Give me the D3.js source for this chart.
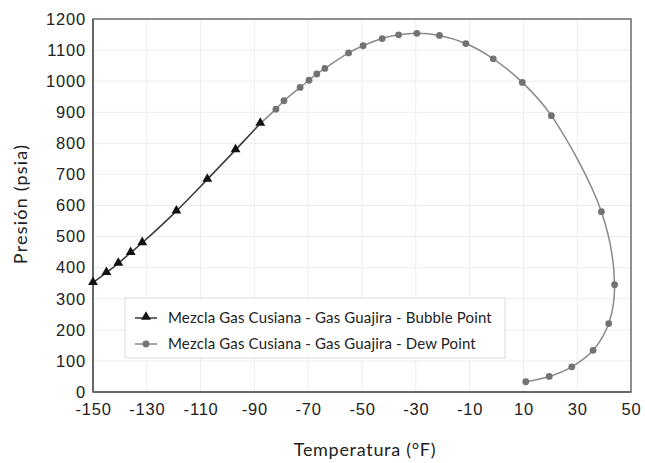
<!DOCTYPE html>
<html>
<head>
<meta charset="utf-8">
<script src="https://cdn.jsdelivr.net/npm/d3@7"></script>
<style>
  body { margin: 0; background: #fff; }
  svg { display: block; font-family: Lato, "Open Sans", sans-serif; }
  .grid line { stroke: #ededed; stroke-width: 1; }
  .axis path, .axis line { display: none; }
  .axis text { font-size: 16.5px; fill: #222; letter-spacing: 0.8px; }
</style>
</head>
<body>
<svg id="chart" width="645" height="463"></svg>
<script>
// ---- DATA
var bubble_temp = [-150, -145, -140.6, -136, -131.7, -119, -107.5, -97, -87.8];
var bubble_pres = [352, 384, 414, 448, 480, 582, 684, 779, 864];

var dew_temp = [-82, -79, -73, -69.7, -66.8, -63.8, -55, -49.6, -42.5, -36.4, -29.6,
  -21.2, -11.4, -1.2, 9.6, 20.4, 39, 43.9, 41.7, 35.9, 28, 19.6, 10.9];
var dew_pres = [910, 937, 980, 1003, 1023, 1041, 1091, 1114, 1137, 1149, 1154,
  1147, 1121, 1072, 996, 889, 580, 345, 220, 134, 81, 50, 33];

var x_ticks = [-150, -130, -110, -90, -70, -50, -30, -10, 10, 30, 50];
var y_ticks = [0, 100, 200, 300, 400, 500, 600, 700, 800, 900, 1000, 1100, 1200];

var series_names = [
  'Mezcla Gas Cusiana - Gas Guajira - Bubble Point',
  'Mezcla Gas Cusiana - Gas Guajira - Dew Point'
];

(function() {
  'use strict';

  var svg = d3.select('#chart');

  //---SIZES
  var m = { left: 93, top: 19, right: 14, bottom: 71 };
  var w = 645 - m.left - m.right,
    h = 463 - m.top - m.bottom;

  var g = svg.append('g')
    .attr('transform', 'translate(' + m.left + ',' + m.top + ')');

  //---SCALES
  var x = d3.scaleLinear().domain([-150, 50]).range([0, w]);
  var y = d3.scaleLinear().domain([0, 1200]).range([h, 0]);

  // plain hyphen for negatives, like the original
  var fmt = function(d) { return String(d); };

  //---GRID
  var grid = g.append('g').attr('class', 'grid');
  grid.selectAll('line.gx')
    .data(x_ticks)
    .enter().append('line')
    .attr('class', 'gx')
    .attr('x1', function(d) { return x(d); })
    .attr('x2', function(d) { return x(d); })
    .attr('y1', 0)
    .attr('y2', h);
  grid.selectAll('line.gy')
    .data(y_ticks)
    .enter().append('line')
    .attr('class', 'gy')
    .attr('x1', 0)
    .attr('x2', w)
    .attr('y1', function(d) { return y(d); })
    .attr('y2', function(d) { return y(d); });

  //---AXES
  g.append('g')
    .attr('class', 'axis')
    .attr('transform', 'translate(0,' + h + ')')
    .call(d3.axisBottom(x).tickValues(x_ticks).tickSize(0).tickPadding(11).tickFormat(fmt))
    .selectAll('text').attr('dy', '0.71em');

  g.append('g')
    .attr('class', 'axis')
    .call(d3.axisLeft(y).tickValues(y_ticks).tickSize(0).tickPadding(7).tickFormat(fmt));

  //---FRAME
  g.append('rect')
    .attr('x', 0).attr('y', 0)
    .attr('width', w).attr('height', h)
    .style('fill', 'none')
    .style('stroke', '#6e6e6e')
    .style('stroke-width', 1.5);
  g.append('line')
    .attr('x1', 0).attr('x2', 0).attr('y1', 0).attr('y2', h)
    .style('stroke', '#666').style('stroke-width', 2);
  g.append('line')
    .attr('x1', 0).attr('x2', w).attr('y1', h).attr('y2', h)
    .style('stroke', '#666').style('stroke-width', 2);

  //---LINES
  var bubble = bubble_temp.map(function(t, i) { return [t, bubble_pres[i]]; });
  var dew = dew_temp.map(function(t, i) { return [t, dew_pres[i]]; });

  var line = d3.line()
    .x(function(d) { return x(d[0]); })
    .y(function(d) { return y(d[1]); })
    .curve(d3.curveCatmullRom.alpha(0.5));

  // dew curve joins the last bubble point
  g.append('path')
    .datum([bubble[bubble.length - 1]].concat(dew))
    .attr('d', line)
    .style('fill', 'none')
    .style('stroke', '#8a8a8a')
    .style('stroke-width', 1.5);

  g.append('path')
    .datum(bubble)
    .attr('d', line)
    .style('fill', 'none')
    .style('stroke', '#3a3a3a')
    .style('stroke-width', 1.5);

  //---MARKERS
  var tri = d3.symbol().type(d3.symbolTriangle).size(42);

  g.selectAll('.dew_pt')
    .data(dew)
    .enter().append('circle')
    .attr('class', 'dew_pt')
    .attr('cx', function(d) { return x(d[0]); })
    .attr('cy', function(d) { return y(d[1]); })
    .attr('r', 3.4)
    .style('fill', '#737373');

  g.selectAll('.bub_pt')
    .data(bubble)
    .enter().append('path')
    .attr('class', 'bub_pt')
    .attr('d', tri)
    .attr('transform', function(d) {
      return 'translate(' + x(d[0]) + ',' + (y(d[1]) - 0.5) + ')';
    })
    .style('fill', '#111');

  //---LEGEND
  var lg = svg.append('g').attr('transform', 'translate(125,298)');
  lg.append('rect')
    .attr('width', 380).attr('height', 60)
    .style('fill', '#fff')
    .style('stroke', '#dcdcdc')
    .style('stroke-width', 1);

  series_names.forEach(function(name, i) {
    var cy = 20 + i * 26;
    lg.append('line')
      .attr('x1', 10).attr('x2', 32)
      .attr('y1', cy).attr('y2', cy)
      .style('stroke', i === 0 ? '#3a3a3a' : '#8a8a8a')
      .style('stroke-width', 1.5);
    if (i === 0) {
      lg.append('path')
        .attr('d', tri)
        .attr('transform', 'translate(21,' + (cy - 1) + ')')
        .style('fill', '#111');
    } else {
      lg.append('circle')
        .attr('cx', 21).attr('cy', cy).attr('r', 3.4)
        .style('fill', '#737373');
    }
    lg.append('text')
      .attr('x', 43)
      .attr('y', cy + 5)
      .style('font-size', '15px')
      .style('letter-spacing', '0.15px')
      .style('fill', '#222')
      .text(name);
  });

  //---AXIS TITLES
  svg.append('text')
    .attr('x', 365)
    .attr('y', 456)
    .attr('text-anchor', 'middle')
    .style('font-size', '18px')
    .style('letter-spacing', '0.7px')
    .style('fill', '#222')
    .text('Temperatura (°F)');

  svg.append('text')
    .attr('transform', 'translate(27,204) rotate(-90)')
    .attr('text-anchor', 'middle')
    .style('font-size', '18px')
    .style('letter-spacing', '1.2px')
    .style('fill', '#222')
    .text('Presión (psia)');

})();
</script>
</body>
</html>
